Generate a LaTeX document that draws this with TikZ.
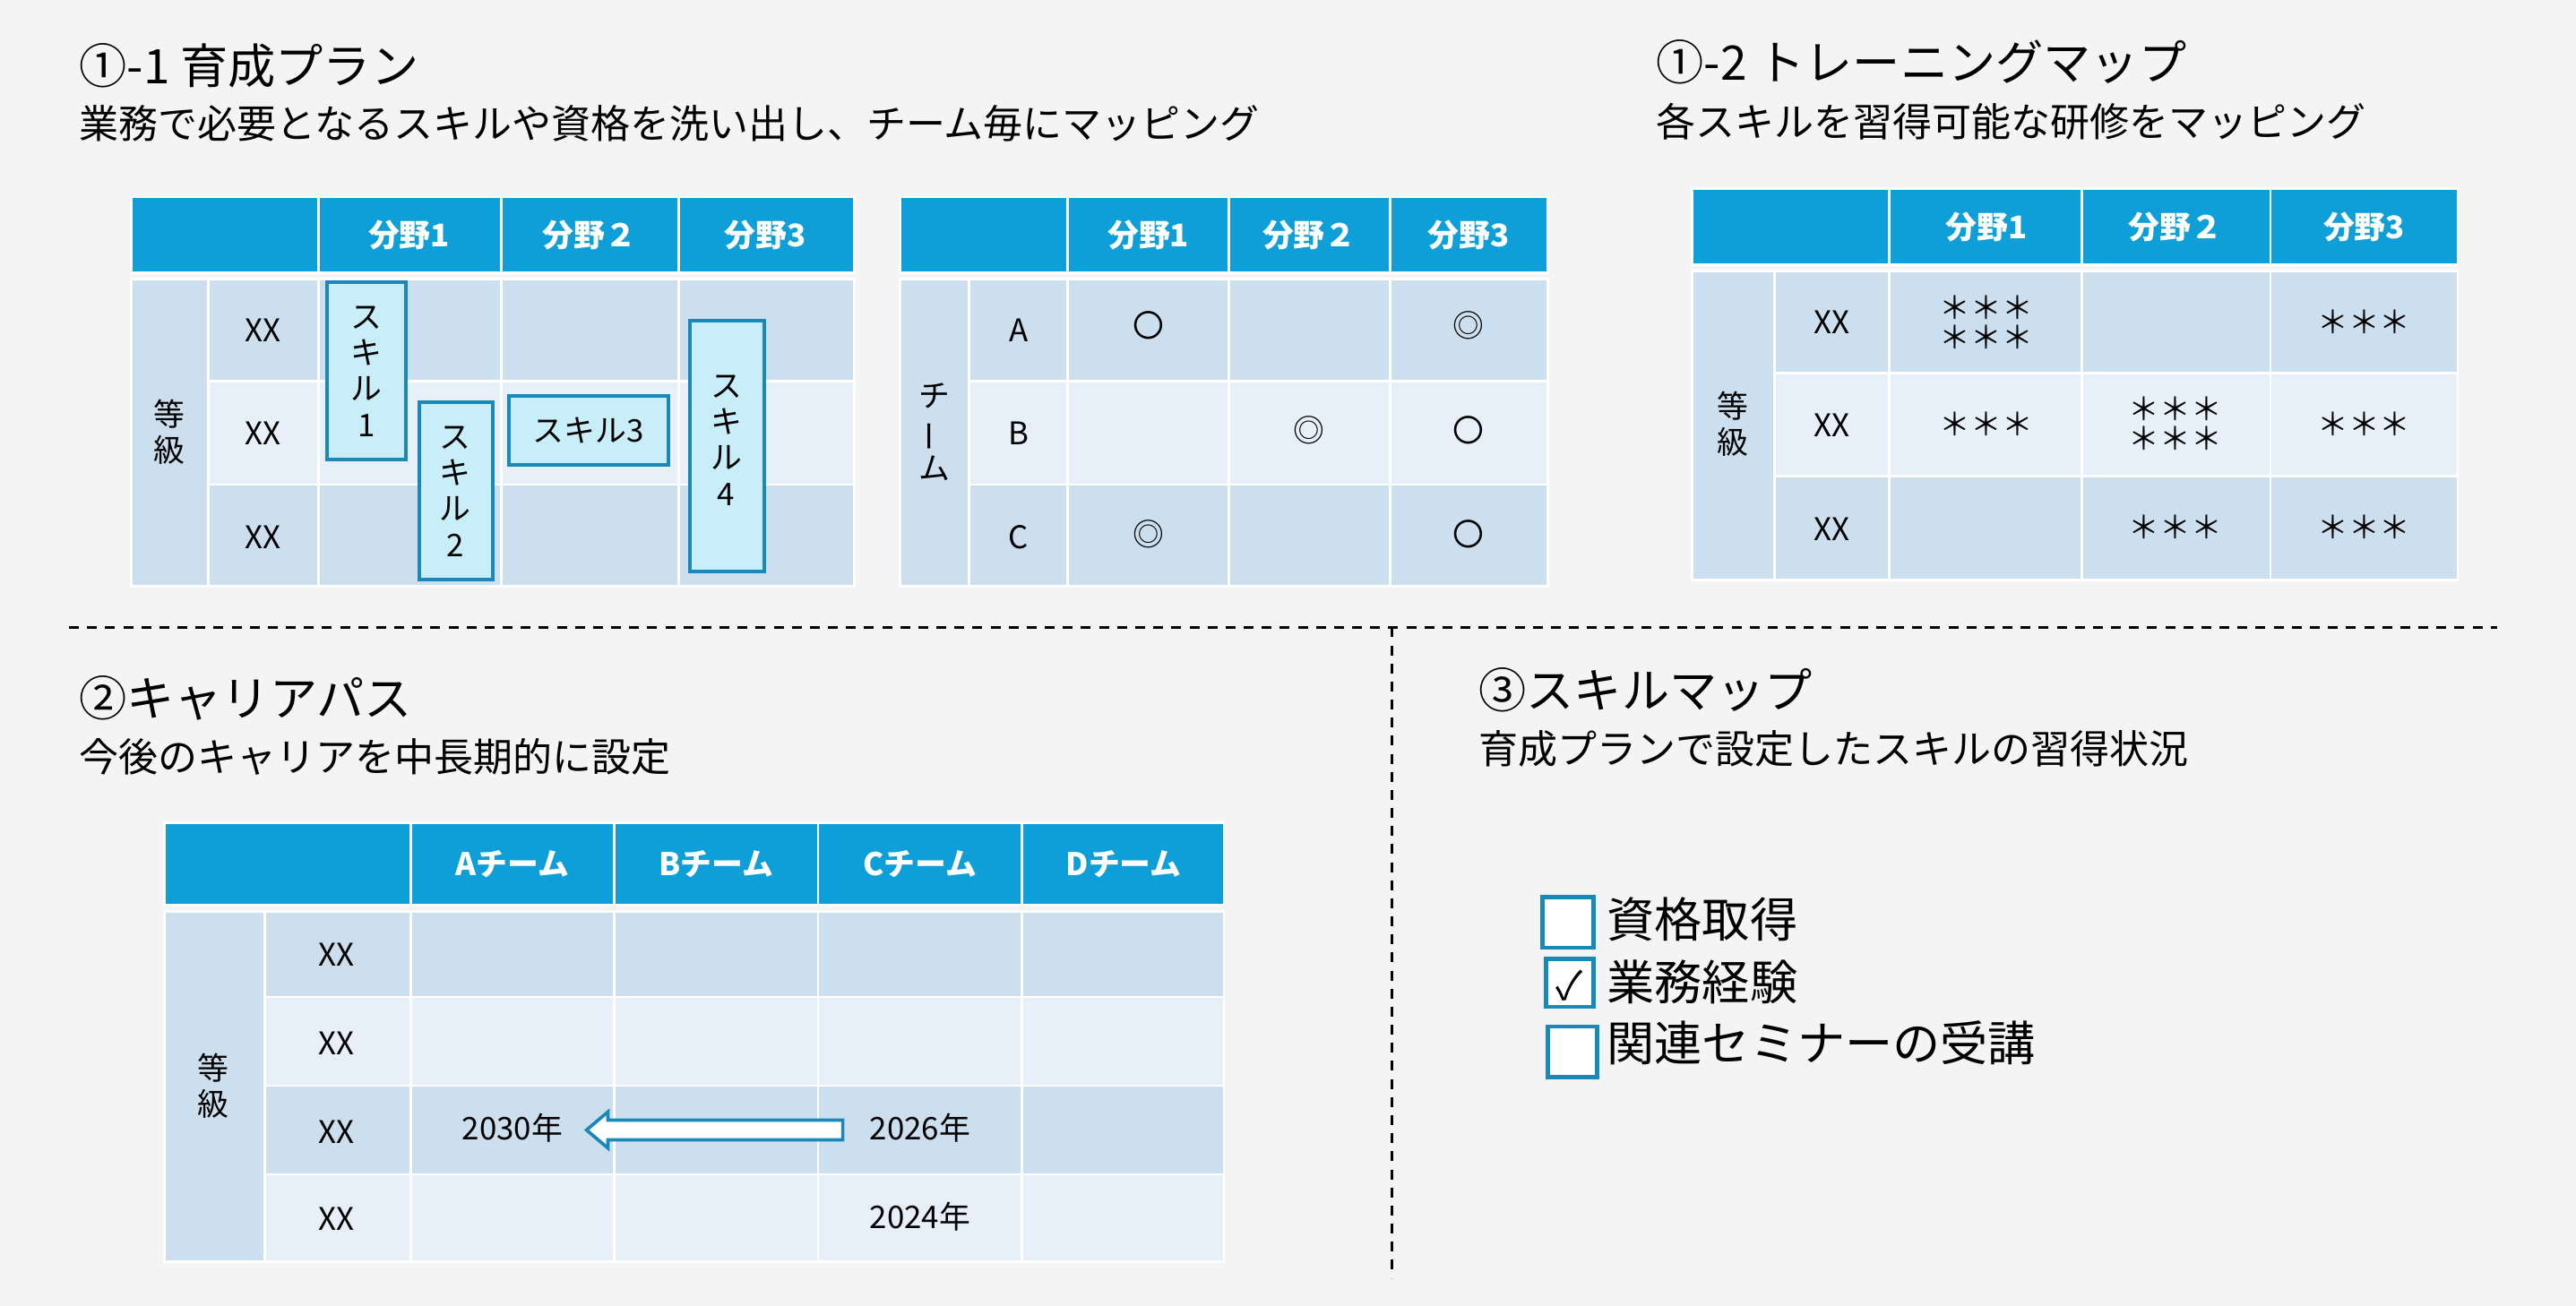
\documentclass[tikz,border=0pt]{standalone}
\usepackage{fontspec}
\setmainfont{Noto Sans CJK JP}
\definecolor{bg}{HTML}{F4F4F4}
\definecolor{hd}{HTML}{0E9FD8}
\definecolor{dk}{HTML}{CCDFEE}
\definecolor{lt}{HTML}{E7F0F8}
\definecolor{skf}{HTML}{C8EEFA}
\definecolor{skd}{HTML}{1A88B8}
\newcommand\cl[5]{\path[fill=#5,draw=white,line width=1.5pt] (#1,#2) rectangle (#3,#4);}
\tikzset{
 x=1pt,y=-1pt,
 ttl/.style={anchor=west,inner sep=0pt,font=\fontsize{29}{32}\selectfont},
 sub/.style={anchor=west,inner sep=0pt,font=\fontsize{24}{28}\selectfont},
 hdt/.style={text=white,font=\fontsize{19}{22}\selectfont\bfseries,inner sep=0pt},
 ct/.style={font=\fontsize{19}{22}\selectfont,inner sep=0pt,align=center},
 skb/.style={draw=skd,fill=skf,line width=2.2pt},
 sep/.style={dashed,line width=1.6pt,dash pattern=on 6pt off 5pt},
 chk/.style={draw=skd,fill=white,line width=2.6pt},
 ckt/.style={anchor=west,inner sep=0pt,font=\fontsize{29}{32}\selectfont},
}
\begin{document}
\begin{tikzpicture}
\path[fill=bg] (0,0) rectangle (1568,795);
\useasboundingbox (0,0) rectangle (1568,795);
% titles
\node[ttl] (t1) at (48,40) {①-1 育成プラン};
\node[sub] (s1) at (48,75) {業務で必要となるスキルや資格を洗い出し、チーム毎にマッピング};
\node[ttl] (t2) at (1008,38) {①-2 トレーニングマップ};
\node[sub] (s2) at (1008,74) {各スキルを習得可能な研修をマッピング};
\node[ttl] (t3) at (48,425) {②キャリアパス};
\node[sub] (s3) at (48,461) {今後のキャリアを中長期的に設定};
\node[ttl] (t4) at (900,420) {③スキルマップ};
\node[sub] (s4) at (900,456) {育成プランで設定したスキルの習得状況};
% separators
\coordinate (h1) at (42,382); \coordinate (h2) at (1520,382);
\coordinate (v1) at (847,382); \coordinate (v2) at (847,778);
\draw[sep] (h1) -- (h2); \draw[sep] (v1) -- (v2);
% ---- table 1
\cl{80}{120}{194}{166}{hd}\cl{194}{120}{305}{166}{hd}\cl{305}{120}{413}{166}{hd}\cl{413}{120}{520}{166}{hd}
\cl{80}{170}{127}{357}{dk}
\cl{127}{170}{194}{232}{dk}\cl{194}{170}{305}{232}{dk}\cl{305}{170}{413}{232}{dk}\cl{413}{170}{520}{232}{dk}
\cl{127}{232}{194}{295}{lt}\cl{194}{232}{305}{295}{lt}\cl{305}{232}{413}{295}{lt}\cl{413}{232}{520}{295}{lt}
\cl{127}{295}{194}{357}{dk}\cl{194}{295}{305}{357}{dk}\cl{305}{295}{413}{357}{dk}\cl{413}{295}{520}{357}{dk}
\node[hdt] (a1) at (249,143) {分野1};
\node[hdt] (a2) at (359,143) {分野２};
\node[hdt] (a3) at (466,143) {分野3};
\node[ct] (ak) at (103,263) {等\\級};
\node[ct] (ax1) at (160,201) {XX};
\node[ct] (ax2) at (160,264) {XX};
\node[ct] (ax3) at (160,327) {XX};
\path[skb] (199,172) rectangle (247,280);
\node[ct] (sk1) at (223,226) {ス\\キ\\ル\\1};
\path[skb] (255,245) rectangle (300,353);
\node[ct] (sk2) at (277,299) {ス\\キ\\ル\\2};
\path[skb] (310,241) rectangle (407,283);
\node[ct] (sk3) at (358,262) {スキル3};
\path[skb] (420,195) rectangle (465,348);
\node[ct] (sk4) at (442,268) {ス\\キ\\ル\\4};
% ---- table 2
\cl{548}{120}{650}{166}{hd}\cl{650}{120}{748}{166}{hd}\cl{748}{120}{846}{166}{hd}\cl{846}{120}{942}{166}{hd}
\cl{548}{170}{590}{357}{dk}
\cl{590}{170}{650}{232}{dk}\cl{650}{170}{748}{232}{dk}\cl{748}{170}{846}{232}{dk}\cl{846}{170}{942}{232}{dk}
\cl{590}{232}{650}{295}{lt}\cl{650}{232}{748}{295}{lt}\cl{748}{232}{846}{295}{lt}\cl{846}{232}{942}{295}{lt}
\cl{590}{295}{650}{357}{dk}\cl{650}{295}{748}{357}{dk}\cl{748}{295}{846}{357}{dk}\cl{846}{295}{942}{357}{dk}
\node[hdt] (b1) at (699,143) {分野1};
\node[hdt] (b2) at (797,143) {分野２};
\node[hdt] (b3) at (894,143) {分野3};
\node[ct] (bk) at (569,263) {チ\\\rotatebox[origin=c]{90}{ー}\\ム};
\node[ct] (bA) at (620,201) {A};
\node[ct] (bB) at (620,264) {B};
\node[ct] (bC) at (620,327) {C};
\node[ct] (bA1) at (699,198) {〇};
\node[ct] (bA3) at (894,198) {◎};
\node[ct] (bB2) at (797,262) {◎};
\node[ct] (bB3) at (894,262) {〇};
\node[ct] (bC1) at (699,325) {◎};
\node[ct] (bC3) at (894,325) {〇};
% ---- table 3
\cl{1030}{115}{1150}{161}{hd}\cl{1150}{115}{1267}{161}{hd}\cl{1267}{115}{1382}{161}{hd}\cl{1382}{115}{1496}{161}{hd}
\cl{1030}{165}{1080}{353}{dk}
\cl{1080}{165}{1150}{227}{dk}\cl{1150}{165}{1267}{227}{dk}\cl{1267}{165}{1382}{227}{dk}\cl{1382}{165}{1496}{227}{dk}
\cl{1080}{227}{1150}{290}{lt}\cl{1150}{227}{1267}{290}{lt}\cl{1267}{227}{1382}{290}{lt}\cl{1382}{227}{1496}{290}{lt}
\cl{1080}{290}{1150}{353}{dk}\cl{1150}{290}{1267}{353}{dk}\cl{1267}{290}{1382}{353}{dk}\cl{1382}{290}{1496}{353}{dk}
\node[hdt] (c1) at (1209,138) {分野1};
\node[hdt] (c2) at (1324,138) {分野２};
\node[hdt] (c3) at (1439,138) {分野3};
\node[ct] (ck) at (1055,258) {等\\級};
\node[ct] (cx1) at (1115,196) {XX};
\node[ct] (cx2) at (1115,259) {XX};
\node[ct] (cx3) at (1115,322) {XX};
\node[ct] (c11) at (1209,196) {＊＊＊\\[-4pt]＊＊＊};
\node[ct] (c13) at (1439,196) {＊＊＊};
\node[ct] (c21) at (1209,258) {＊＊＊};
\node[ct] (c22) at (1324,258) {＊＊＊\\[-4pt]＊＊＊};
\node[ct] (c23) at (1439,258) {＊＊＊};
\node[ct] (c32) at (1324,321) {＊＊＊};
\node[ct] (c33) at (1439,321) {＊＊＊};
% ---- table 4
\cl{100}{501}{250}{551}{hd}\cl{250}{501}{374}{551}{hd}\cl{374}{501}{498}{551}{hd}\cl{498}{501}{622}{551}{hd}\cl{622}{501}{745}{551}{hd}
\cl{100}{555}{161}{768}{dk}
\foreach \ya/\yb/\c in {555/607/dk,607/661/lt,661/715/dk,715/768/lt}{
 \cl{161}{\ya}{250}{\yb}{\c}\cl{250}{\ya}{374}{\yb}{\c}\cl{374}{\ya}{498}{\yb}{\c}\cl{498}{\ya}{622}{\yb}{\c}\cl{622}{\ya}{745}{\yb}{\c}}
\node[hdt] (d1) at (312,526) {Aチーム};
\node[hdt] (d2) at (436,526) {Bチーム};
\node[hdt] (d3) at (560,526) {Cチーム};
\node[hdt] (d4) at (684,526) {Dチーム};
\node[ct] (dk) at (130,661) {等\\級};
\node[ct] (dx1) at (205,581) {XX};
\node[ct] (dx2) at (205,635) {XX};
\node[ct] (dx3) at (205,689) {XX};
\node[ct] (dx4) at (205,742) {XX};
\node[ct] (y30) at (312,687) {2030年};
\node[ct] (y26) at (560,687) {2026年};
\node[ct] (y24) at (560,741) {2024年};
\path[draw=skd,fill=white,line width=2pt] (513,682) -- (370,682) -- (370,677) -- (357,688) -- (370,699) -- (370,694) -- (513,694) -- cycle;
% ---- checklist
\path[chk] (939,546) rectangle (970,577);
\path[chk] (941,584) rectangle (970,613);
\path[chk] (942,625) rectangle (972,656);
\node[ckt] (k1) at (978,560) {資格取得};
\node[ckt] (k2) at (978,598) {業務経験};
\node[ckt] (k3) at (978,635) {関連セミナーの受講};
\node[inner sep=0pt,font=\fontsize{24}{26}\selectfont] (kv) at (955,600) {✓};
\end{tikzpicture}
\end{document}
